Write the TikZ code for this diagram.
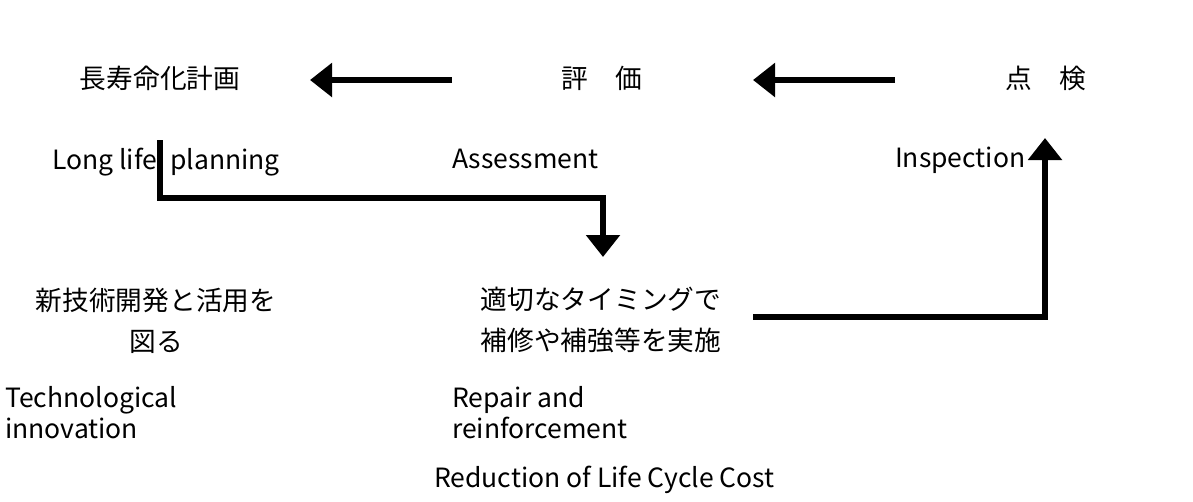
\documentclass[tikz,border=0pt]{standalone}
\usepackage{fontspec}
\setmainfont{Noto Sans CJK JP}
\usetikzlibrary{arrows.meta}
\begin{document}
\begin{tikzpicture}[x=1pt,y=-1pt,
  jp/.style={inner sep=0pt, font=\fontsize{26.7}{41}\selectfont, align=center},
  en/.style={inner sep=0pt, anchor=base west, font=\fontsize{26.5}{31}\selectfont, align=left},
  flow/.style={line width=6.5pt, -{Triangle[length=22pt,width=33pt]}}]
\useasboundingbox (0,0) rectangle (1193,501);
% top row
\node[jp] (plan) at (160,78) {長寿命化計画};
\node[jp] (eval) at (602,78) {評\hspace{1em}価};
\node[jp] (insp) at (1046,78) {点\hspace{1em}検};
% english labels
\node[en] (ll) at (52,169) {Long life};
\node[en] (pl) at (170,169) {planning};
\node[en] (as) at (452,168) {Assessment};
\node[en] (in) at (895,167) {Inspection};
% middle japanese
\node[jp] (tech) at (156,321) {新技術開発と活用を\\図る};
\node[jp] (rep) at (601,320) {適切なタイミングで\\補修や補強等を実施};
% bottom english
\node[en] (techE) at (5,438) {Technological\\innovation};
\node[en] (repE) at (452,438) {Repair and\\reinforcement};
\node[en] (lcc) at (434,487) {Reduction of Life Cycle Cost};
% connector coordinates
\coordinate (a1s) at (452,80);
\coordinate (a1e) at (310,80);
\coordinate (a2s) at (895,80);
\coordinate (a2e) at (753,80);
\coordinate (p0) at (160,140);
\coordinate (p1) at (160,198);
\coordinate (p2) at (603,198);
\coordinate (p3) at (603,257);
\coordinate (r0) at (753,317);
\coordinate (r1) at (1045,317);
\coordinate (r2) at (1045,138);
\draw[flow] (a1s) -- (a1e);
\draw[flow] (a2s) -- (a2e);
\draw[flow] (p0) -- (p1) -- (p2) -- (p3);
\draw[flow] (r0) -- (r1) -- (r2);
\end{tikzpicture}
\end{document}
